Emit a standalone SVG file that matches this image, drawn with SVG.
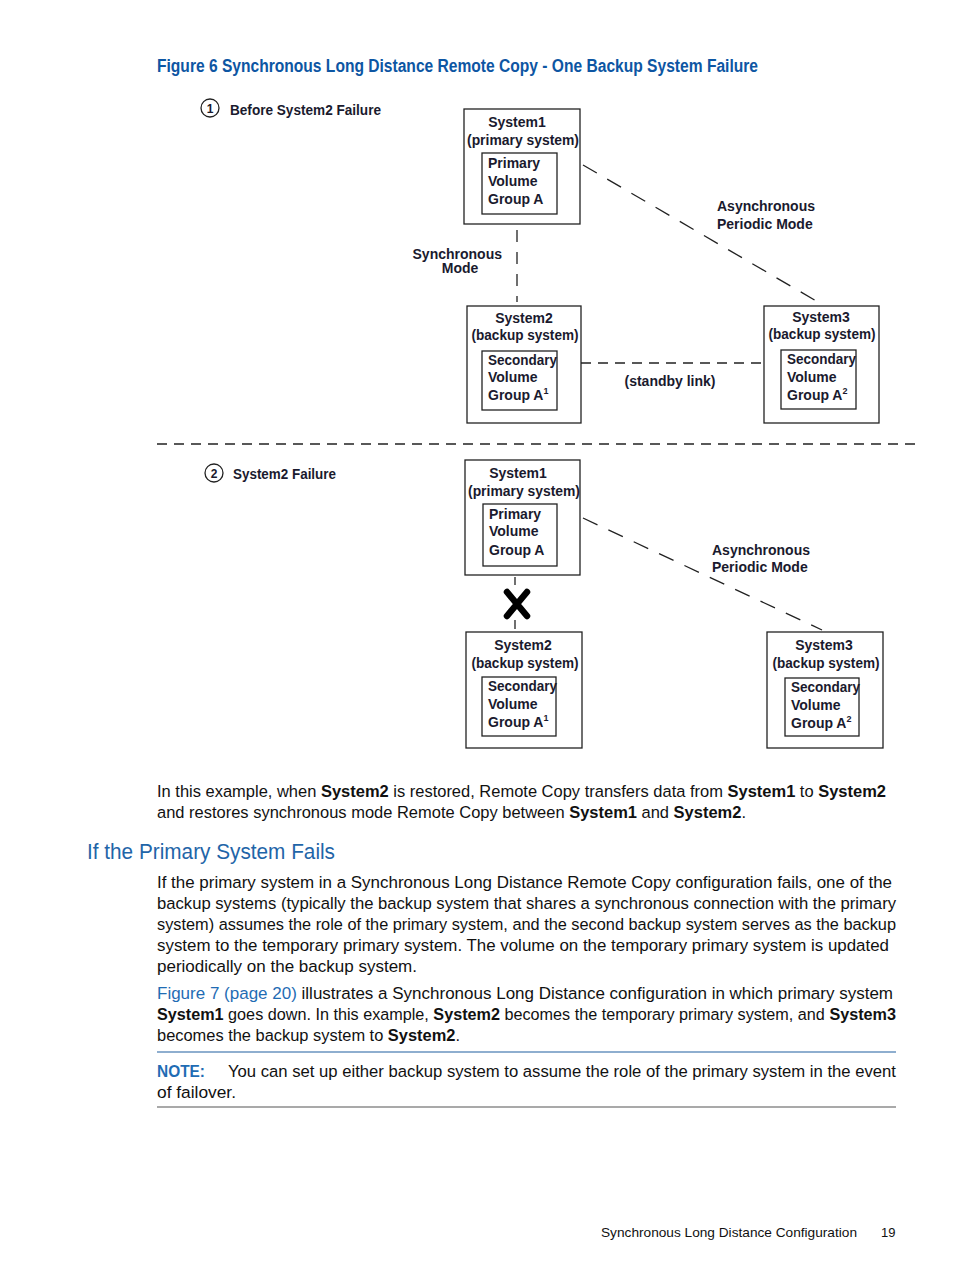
<svg xmlns="http://www.w3.org/2000/svg" width="954" height="1271" viewBox="0 0 954 1271">
<style>
.bg{fill:#fff}
.box{fill:none;stroke:#222;stroke-width:1.3}
.dt{font-family:"Liberation Sans",Arial,sans-serif;font-weight:bold;font-size:14px;fill:#1a1a2e}
.dtc{text-anchor:middle}
.num{font-size:12px}
.dash{stroke:#222;stroke-width:1.3;fill:none;stroke-dasharray:12 10}
.body{font-family:"Liberation Sans",Arial,sans-serif;font-size:16.3px;fill:#111}
.b{font-weight:bold}
.blue{fill:#1f6cb4}
.h2{font-size:22px;fill:#1f65a8}
.foot{font-size:13px}
.title{font-family:"Liberation Sans",Arial,sans-serif;font-weight:bold;font-size:17.5px;fill:#0d56a3}
.rule{stroke:#1f5fa0;stroke-width:1.2}
</style>
<rect class="bg" x="0" y="0" width="954" height="1271"/>
<text class="title" x="157" y="72" textLength="601" lengthAdjust="spacingAndGlyphs">Figure 6 Synchronous Long Distance Remote Copy - One Backup System Failure</text>

<g id="label1">
<circle cx="210" cy="108" r="9" fill="none" stroke="#222" stroke-width="1.3"/>
<text class="dt dtc num" x="210" y="113">1</text>
<text class="dt" x="230" y="115" textLength="151" lengthAdjust="spacingAndGlyphs">Before System2 Failure</text>
</g>

<g id="connectors">
<line class="dash" x1="517" y1="230" x2="517" y2="302"/>
<line class="dash" x1="583" y1="165" x2="818" y2="302" style="stroke-dasharray:16 12"/>
<line class="dash" x1="581" y1="363" x2="764" y2="363" style="stroke-dasharray:10 7"/>
<line class="dash" x1="157" y1="444" x2="920" y2="444" style="stroke-dasharray:10 7"/>
<line class="dash" x1="515" y1="577" x2="515" y2="585"/>
<line class="dash" x1="515" y1="620" x2="515" y2="629"/>
<line class="dash" x1="583" y1="518" x2="822" y2="630" style="stroke-dasharray:16 12"/>
<path d="M507 592 L527 616 M527 592 L507 616" stroke="#000" stroke-width="6.5" stroke-linecap="round"/>
</g>

<g id="conn-labels">
<text class="dt" x="502" y="259" text-anchor="end">Synchronous</text>
<text class="dt dtc" x="460" y="273">Mode</text>
<text class="dt" x="717" y="211">Asynchronous</text>
<text class="dt" x="717" y="229">Periodic Mode</text>
<text class="dt dtc" x="670" y="386">(standby link)</text>
<text class="dt" x="712" y="555">Asynchronous</text>
<text class="dt" x="712" y="572">Periodic Mode</text>
</g>

<g id="sys1a">
<rect class="box" x="464" y="109" width="116" height="115"/>
<text class="dt dtc" x="517" y="127">System1</text>
<text class="dt dtc" x="523" y="145" textLength="112" lengthAdjust="spacingAndGlyphs">(primary system)</text>
<rect class="box" x="482" y="153" width="75" height="61"/>
<text class="dt" x="488" y="168">Primary</text>
<text class="dt" x="488" y="186">Volume</text>
<text class="dt" x="488" y="204">Group A</text>
</g>

<g id="sys2a">
<rect class="box" x="467" y="306" width="114" height="117"/>
<text class="dt dtc" x="524" y="323">System2</text>
<text class="dt dtc" x="525" y="340" textLength="107" lengthAdjust="spacingAndGlyphs">(backup system)</text>
<rect class="box" x="482" y="351" width="75" height="59"/>
<text class="dt" x="488" y="365" textLength="69" lengthAdjust="spacingAndGlyphs">Secondary</text>
<text class="dt" x="488" y="382">Volume</text>
<text class="dt" x="488" y="400">Group A<tspan style="font-size:9px" dy="-6">1</tspan></text>
</g>

<g id="sys3a">
<rect class="box" x="764" y="306" width="115" height="117"/>
<text class="dt dtc" x="821" y="322">System3</text>
<text class="dt dtc" x="822" y="339" textLength="107" lengthAdjust="spacingAndGlyphs">(backup system)</text>
<rect class="box" x="781" y="350" width="75" height="59"/>
<text class="dt" x="787" y="364" textLength="69" lengthAdjust="spacingAndGlyphs">Secondary</text>
<text class="dt" x="787" y="382">Volume</text>
<text class="dt" x="787" y="400">Group A<tspan style="font-size:9px" dy="-6">2</tspan></text>
</g>

<g id="label2">
<circle cx="214" cy="473" r="9" fill="none" stroke="#222" stroke-width="1.3"/>
<text class="dt dtc num" x="214" y="478">2</text>
<text class="dt" x="233" y="479" textLength="103" lengthAdjust="spacingAndGlyphs">System2 Failure</text>
</g>

<g id="sys1b">
<rect class="box" x="465" y="460" width="115" height="115"/>
<text class="dt dtc" x="518" y="478">System1</text>
<text class="dt dtc" x="524" y="496" textLength="112" lengthAdjust="spacingAndGlyphs">(primary system)</text>
<rect class="box" x="483" y="504" width="74" height="62"/>
<text class="dt" x="489" y="519">Primary</text>
<text class="dt" x="489" y="536">Volume</text>
<text class="dt" x="489" y="555">Group A</text>
</g>

<g id="sys2b">
<rect class="box" x="466" y="632" width="116" height="116"/>
<text class="dt dtc" x="523" y="650">System2</text>
<text class="dt dtc" x="525" y="668" textLength="107" lengthAdjust="spacingAndGlyphs">(backup system)</text>
<rect class="box" x="482" y="677" width="74" height="59"/>
<text class="dt" x="488" y="691" textLength="69" lengthAdjust="spacingAndGlyphs">Secondary</text>
<text class="dt" x="488" y="709">Volume</text>
<text class="dt" x="488" y="727">Group A<tspan style="font-size:9px" dy="-6">1</tspan></text>
</g>

<g id="sys3b">
<rect class="box" x="767" y="632" width="116" height="116"/>
<text class="dt dtc" x="824" y="650">System3</text>
<text class="dt dtc" x="826" y="668" textLength="107" lengthAdjust="spacingAndGlyphs">(backup system)</text>
<rect class="box" x="785" y="678" width="74" height="58"/>
<text class="dt" x="791" y="692" textLength="69" lengthAdjust="spacingAndGlyphs">Secondary</text>
<text class="dt" x="791" y="710">Volume</text>
<text class="dt" x="791" y="728">Group A<tspan style="font-size:9px" dy="-6">2</tspan></text>
</g>

<g id="text">
<text class="body" x="157" y="797" textLength="729" lengthAdjust="spacingAndGlyphs">In this example, when <tspan class="b">System2</tspan> is restored, Remote Copy transfers data from <tspan class="b">System1</tspan> to <tspan class="b">System2</tspan></text>
<text class="body" x="157" y="818" textLength="589" lengthAdjust="spacingAndGlyphs">and restores synchronous mode Remote Copy between <tspan class="b">System1</tspan> and <tspan class="b">System2</tspan>.</text>
<text class="body h2" x="87" y="859" textLength="248" lengthAdjust="spacingAndGlyphs">If the Primary System Fails</text>
<text class="body" x="157" y="888" textLength="735" lengthAdjust="spacingAndGlyphs">If the primary system in a Synchronous Long Distance Remote Copy configuration fails, one of the</text>
<text class="body" x="157" y="909" textLength="739" lengthAdjust="spacingAndGlyphs">backup systems (typically the backup system that shares a synchronous connection with the primary</text>
<text class="body" x="157" y="930" textLength="739" lengthAdjust="spacingAndGlyphs">system) assumes the role of the primary system, and the second backup system serves as the backup</text>
<text class="body" x="157" y="951" textLength="732" lengthAdjust="spacingAndGlyphs">system to the temporary primary system. The volume on the temporary primary system is updated</text>
<text class="body" x="157" y="972" textLength="260" lengthAdjust="spacingAndGlyphs">periodically on the backup system.</text>
<text class="body" x="157" y="999" textLength="736" lengthAdjust="spacingAndGlyphs"><tspan class="blue">Figure 7 (page 20)</tspan> illustrates a Synchronous Long Distance configuration in which primary system</text>
<text class="body" x="157" y="1020" textLength="739" lengthAdjust="spacingAndGlyphs"><tspan class="b">System1</tspan> goes down. In this example, <tspan class="b">System2</tspan> becomes the temporary primary system, and <tspan class="b">System3</tspan></text>
<text class="body" x="157" y="1041" textLength="303" lengthAdjust="spacingAndGlyphs">becomes the backup system to <tspan class="b">System2</tspan>.</text>
<line class="rule" x1="157" y1="1052" x2="896" y2="1052"/>
<text class="body b blue" x="157" y="1077" textLength="48" lengthAdjust="spacingAndGlyphs">NOTE:</text>
<text class="body" x="228" y="1077" textLength="668" lengthAdjust="spacingAndGlyphs">You can set up either backup system to assume the role of the primary system in the event</text>
<text class="body" x="157" y="1098" textLength="79" lengthAdjust="spacingAndGlyphs">of failover.</text>
<line class="rule" x1="157" y1="1107" x2="896" y2="1107" style="stroke:#555"/>
<text class="body foot" x="601" y="1237" textLength="256" lengthAdjust="spacingAndGlyphs">Synchronous Long Distance Configuration</text>
<text class="body foot" x="881" y="1237">19</text>
</g>
</svg>
